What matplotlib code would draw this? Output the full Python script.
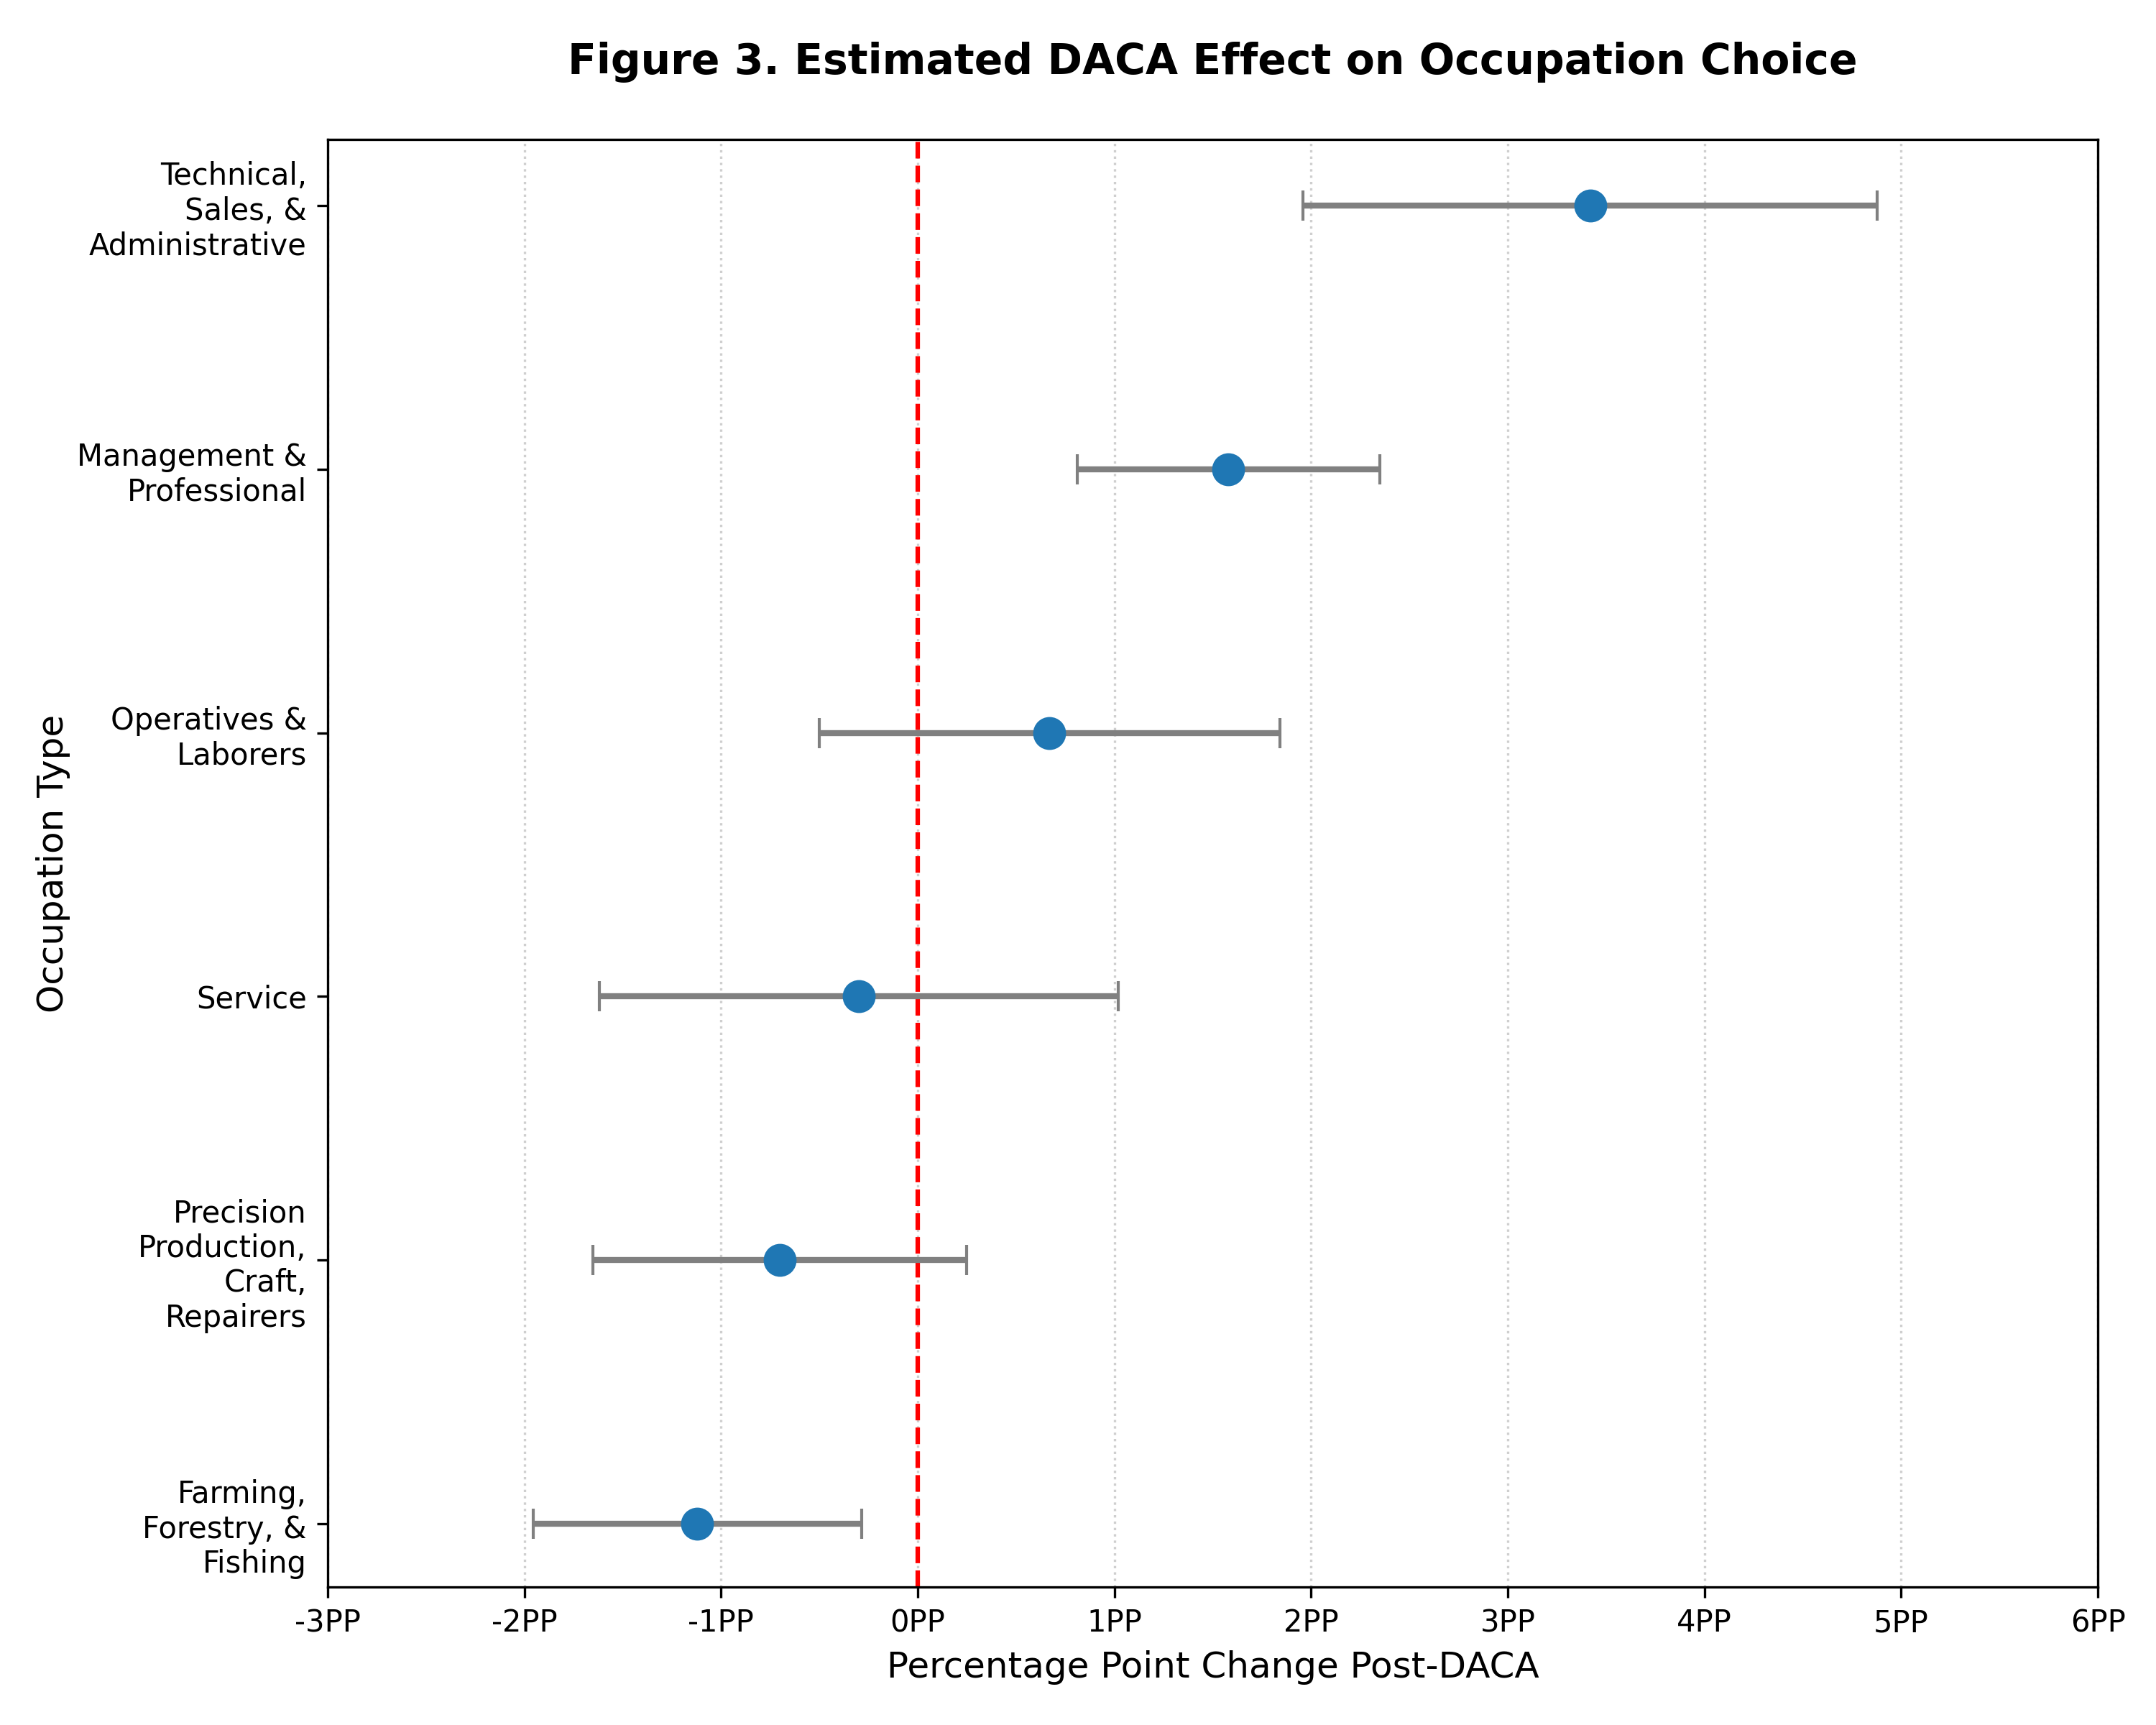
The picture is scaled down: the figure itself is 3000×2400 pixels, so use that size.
import matplotlib
matplotlib.use("Agg")
import matplotlib.pyplot as plt
from matplotlib.ticker import FuncFormatter

categories = [
    "Farming,\nForestry, &\nFishing",
    "Precision\nProduction,\nCraft,\nRepairers",
    "Service",
    "Operatives &\nLaborers",
    "Management &\nProfessional",
    "Technical,\nSales, &\nAdministrative",
]
estimates = [-1.12, -0.70, -0.30, 0.67, 1.58, 3.42]
errors = [0.835, 0.95, 1.32, 1.17, 0.77, 1.46]
xticks = [-3, -2, -1, 0, 1, 2, 3, 4, 5, 6]

fig = plt.figure(figsize=(10, 8), dpi=300)
ax = fig.add_axes([0.152, 0.080, 0.821, 0.839])

ypos = list(range(len(categories)))
ax.errorbar(estimates, ypos, xerr=errors, fmt="o", color="#1f77b4",
            ecolor="gray", elinewidth=2, capsize=5, capthick=1.0,
            markersize=10, zorder=3)
ax.axvline(0, color="red", linestyle="--", linewidth=1.5, zorder=2)

ax.set_yticks(ypos)
ax.set_yticklabels(categories, fontsize=10)
ax.set_xticks(xticks)
ax.set_xlim(-3, 6)
ax.set_ylim(-0.24, 5.25)
ax.xaxis.set_major_formatter(FuncFormatter(lambda v, p: f"{int(round(v))}PP"))
ax.tick_params(axis="x", labelsize=10)
ax.grid(axis="x", linestyle=":", alpha=0.6)
ax.set_axisbelow(True)

ax.set_xlabel("Percentage Point Change Post-DACA", fontsize=12)
ax.set_ylabel("Occupation Type", fontsize=12, labelpad=2)
ax.set_title("Figure 3. Estimated DACA Effect on Occupation Choice",
             fontsize=14, fontweight="bold", pad=22)

fig.savefig("out.png", dpi=300)
